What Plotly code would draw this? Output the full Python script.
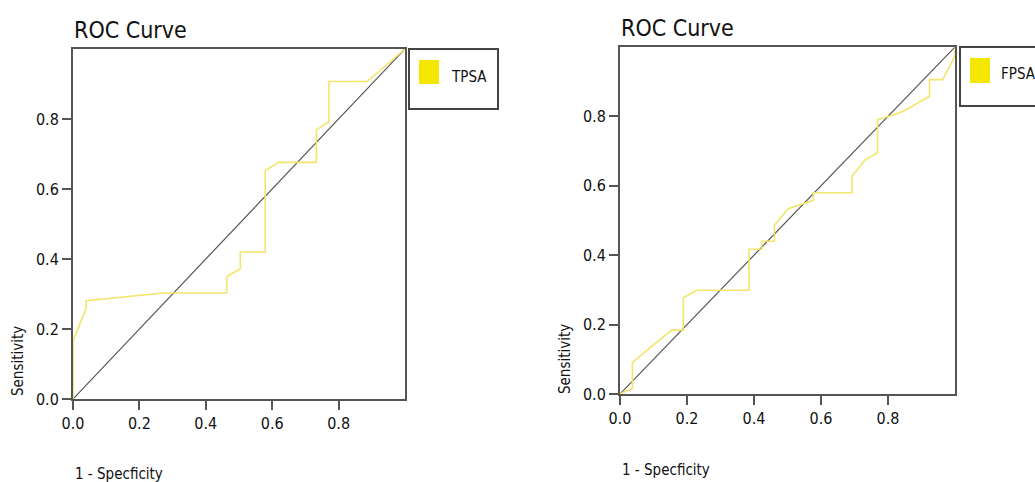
import plotly.graph_objects as go

# ---- data ----
tpsa_fpr = [0.0, 0.0, 0.040, 0.040, 0.272, 0.463, 0.463, 0.504, 0.504, 0.579, 0.579, 0.619, 0.733, 0.733, 0.771, 0.771, 0.886, 1.0]
tpsa_tpr = [0.0, 0.165, 0.26, 0.281, 0.303, 0.303, 0.35, 0.372, 0.42, 0.42, 0.652, 0.676, 0.676, 0.769, 0.793, 0.907, 0.907, 1.0]

fpsa_fpr = [0.0, 0.037, 0.037, 0.154, 0.189, 0.189, 0.229, 0.385, 0.385, 0.423, 0.423, 0.461, 0.461, 0.502, 0.577, 0.577,
            0.693, 0.693, 0.731, 0.769, 0.769, 0.806, 0.846, 0.924, 0.924, 0.963, 1.0, 1.0]
fpsa_tpr = [0.0, 0.016, 0.091, 0.184, 0.184, 0.277, 0.299, 0.299, 0.417, 0.417, 0.44, 0.44, 0.486, 0.534, 0.558, 0.58,
            0.58, 0.628, 0.674, 0.696, 0.791, 0.801, 0.815, 0.858, 0.906, 0.906, 0.974, 1.0]

ref_line = [0.0, 1.0]
tick_vals = [0.0, 0.2, 0.4, 0.6, 0.8]
tick_text = ["0.0", "0.2", "0.4", "0.6", "0.8"]
series_names = ["TPSA", "FPSA"]
chart_title = "ROC Curve"
x_title = "1 - Specficity"
y_title = "Sensitivity"

W, H = 1035, 482
FONT = "DejaVu Sans Condensed, DejaVu Sans, sans-serif"
CURVE = "#f3e56a"
SWATCH = "#f5e800"
AXIS = "#555555"

def px(x):
    return x / W

def py(y):
    return 1 - y / H

fig = go.Figure()

panels = [
    dict(fpr=tpsa_fpr, tpr=tpsa_tpr, name=series_names[0], xa="x", ya="y",
         x0=73, x1=405, y0=49, y1=399),
    dict(fpr=fpsa_fpr, tpr=fpsa_tpr, name=series_names[1], xa="x2", ya="y2",
         x0=620, x1=955, y0=47, y1=394),
]

for p in panels:
    fig.add_trace(go.Scatter(x=ref_line, y=ref_line, mode="lines", xaxis=p["xa"], yaxis=p["ya"],
                             line=dict(color="#555555", width=1.2), showlegend=False, hoverinfo="skip"))
    fig.add_trace(go.Scatter(x=p["fpr"], y=p["tpr"], mode="lines", xaxis=p["xa"], yaxis=p["ya"],
                             line=dict(color=CURVE, width=1.6), name=p["name"], showlegend=False))

axis_common = dict(range=[0, 1], showgrid=False, zeroline=False, showline=True, mirror=True,
                   automargin=False,
                   linecolor=AXIS, linewidth=2, ticks="outside", ticklen=9, tickwidth=2, tickcolor=AXIS,
                   tickvals=tick_vals, ticktext=tick_text,
                   tickfont=dict(family=FONT, size=16, color="#111"))

layout = dict(width=W, height=H, margin=dict(l=0, r=0, t=0, b=0, autoexpand=False),
              paper_bgcolor="white", plot_bgcolor="white", showlegend=False)

for i, p in enumerate(panels):
    sfx = "" if i == 0 else "2"
    layout["xaxis" + sfx] = dict(axis_common, domain=[px(p["x0"]), px(p["x1"])], anchor="y" + sfx)
    layout["yaxis" + sfx] = dict(axis_common, domain=[py(p["y1"]), py(p["y0"])], anchor="x" + sfx)

fig.update_layout(**layout)

ann = []
shapes = []
# titles
for p, ty in zip(panels, [30, 28]):
    ann.append(dict(text=chart_title, x=px(p["x0"] - 1), y=py(ty), xref="paper", yref="paper",
                    xanchor="left", yanchor="middle", showarrow=False,
                    font=dict(family=FONT, size=23, color="#111")))
# axis titles
for p, yx, yy, xy in zip(panels, [18, 565], [361, 359], [474, 470]):
    ann.append(dict(text=y_title, x=px(yx), y=py(yy), xref="paper", yref="paper",
                    xanchor="center", yanchor="middle", textangle=-90, showarrow=False,
                    font=dict(family=FONT, size=15, color="#111")))
    ann.append(dict(text=x_title, x=px(p["x0"]), y=py(xy), xref="paper", yref="paper",
                    xanchor="left", yanchor="middle", showarrow=False,
                    font=dict(family=FONT, size=15, color="#111")))

# legend boxes
legends = [dict(bx0=409, bx1=498, by0=49, by1=109, sx=419, sy0=60, sy1=84, tx=449, ty=77, name=series_names[0]),
           dict(bx0=960, bx1=1040, by0=47, by1=106, sx=970, sy0=58, sy1=83, tx=999, ty=74, name=series_names[1])]
for lg in legends:
    shapes.append(dict(type="rect", xref="paper", yref="paper",
                       x0=px(lg["bx0"]), x1=px(lg["bx1"]), y0=py(lg["by1"]), y1=py(lg["by0"]),
                       line=dict(color="#444", width=2), fillcolor="white"))
    shapes.append(dict(type="rect", xref="paper", yref="paper",
                       x0=px(lg["sx"]), x1=px(lg["sx"] + 20), y0=py(lg["sy1"]), y1=py(lg["sy0"]),
                       line=dict(width=0), fillcolor=SWATCH))
    ann.append(dict(text=lg["name"], x=px(lg["tx"]), y=py(lg["ty"]), xref="paper", yref="paper",
                    xanchor="left", yanchor="middle", showarrow=False,
                    font=dict(family=FONT, size=15, color="#111")))

fig.update_layout(annotations=ann, shapes=shapes)
fig.write_html("out.html", config={"displayModeBar": False},
               post_script="document.body.style.margin='0';document.body.style.overflow='hidden';")
